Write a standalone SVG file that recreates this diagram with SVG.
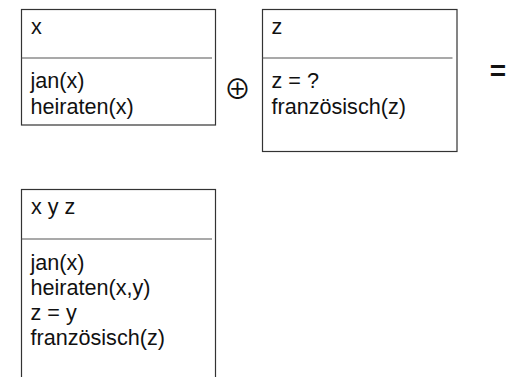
<svg xmlns="http://www.w3.org/2000/svg" width="506" height="377" viewBox="0 0 506 377">
<style>
.box{fill:#fff;stroke:#333;stroke-width:1.2}
.div{stroke:#555;stroke-width:1.2}
.t{font-family:"Liberation Sans",Arial,sans-serif;font-size:21.6px;fill:#111}
.op{font-family:"Noto Sans CJK JP","DejaVu Sans",sans-serif;font-size:27px;fill:#111}
.eq{font-family:"Liberation Sans",Arial,sans-serif;font-size:28px;font-weight:bold;fill:#111}
</style>
<rect width="506" height="377" fill="#fff"/>
<g id="box1">
<rect class="box" x="21.5" y="9.5" width="194" height="115.5"/>
<line class="div" x1="21.5" y1="58" x2="212" y2="58"/>
<text class="t" x="31" y="34">x</text>
<text class="t" x="30.5" y="88">jan(x)</text>
<text class="t" x="30.5" y="114">heiraten(x)</text>
</g>
<g id="oplus">
<text class="op" x="237.5" y="98.5" text-anchor="middle">⊕</text>
</g>
<g id="box2">
<rect class="box" x="262.5" y="9.5" width="194.5" height="142"/>
<line class="div" x1="262.5" y1="58" x2="452.5" y2="58"/>
<text class="t" x="271.5" y="34">z</text>
<text class="t" x="271.5" y="88">z = ?</text>
<text class="t" x="271.5" y="114">französisch(z)</text>
</g>
<g id="equals">
<text class="eq" x="489.7" y="79.6">=</text>
</g>
<g id="box3">
<rect class="box" x="21.5" y="189.5" width="194" height="220"/>
<line class="div" x1="21.5" y1="239" x2="212" y2="239"/>
<text class="t" x="31" y="214">x y z</text>
<text class="t" x="30.5" y="270">jan(x)</text>
<text class="t" x="30.5" y="295">heiraten(x,y)</text>
<text class="t" x="30.5" y="320">z = y</text>
<text class="t" x="30.5" y="345">französisch(z)</text>
</g>
<g id="connectors"></g>
</svg>
